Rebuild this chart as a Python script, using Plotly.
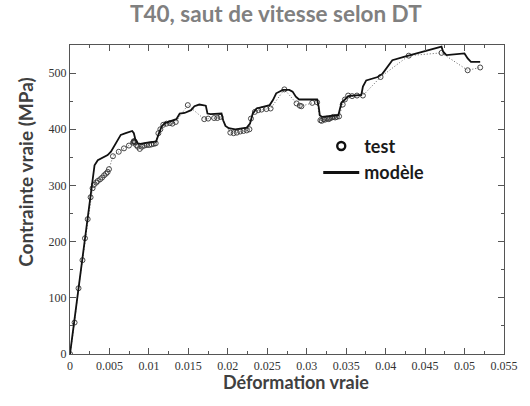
import plotly.graph_objects as go

# Essai de traction T40 : mesures (test) et simulation (modèle)
test_strain = [
    0.0, 0.00058, 0.00108, 0.00158, 0.0019, 0.00224, 0.00261, 0.00286, 0.00302,
    0.00332, 0.00352, 0.00382, 0.00407, 0.00432, 0.00457, 0.00477, 0.00494,
    0.00544, 0.00618, 0.00684, 0.00747, 0.00800, 0.00806, 0.00812, 0.00818,
    0.00824, 0.00840, 0.00859, 0.00884, 0.00912, 0.00942, 0.00974, 0.01004,
    0.01033, 0.01061, 0.01086, 0.0112, 0.01145, 0.01182, 0.01223, 0.01266,
    0.01298, 0.0134, 0.01493, 0.01701, 0.01751, 0.01826, 0.01867, 0.01908,
    0.02032, 0.02074, 0.02115, 0.02157, 0.02199, 0.0224, 0.02274, 0.02293,
    0.02343, 0.02386, 0.02427, 0.02489, 0.02542, 0.02717, 0.02871, 0.02912,
    0.02933, 0.0307, 0.03132, 0.03173, 0.0319, 0.03214, 0.0323, 0.03257,
    0.0328, 0.03298, 0.0332, 0.03339, 0.0336, 0.03381, 0.0341, 0.03456,
    0.03484, 0.03525, 0.03575, 0.03637, 0.03712, 0.03936, 0.04293, 0.04708,
    0.0504, 0.05198,
]
test_stress = [
    0, 56, 117, 167, 206, 240, 279, 295, 301,
    305, 308, 311, 314, 318, 321, 324, 329,
    352, 360, 366, 371, 376, 378, 379, 378,
    377, 372, 369, 365, 369, 371, 372, 372,
    373, 374, 375, 393, 400, 408, 410, 411,
    410, 413, 443, 418, 419, 420, 420, 422,
    394, 393, 394, 396, 397, 398, 400, 419,
    431, 434, 435, 436, 437, 471, 446, 442,
    441, 447, 448, 416, 415, 418, 417, 419,
    418, 420, 421, 422, 421, 422, 423, 444,
    453, 460, 459, 460, 460, 493, 531, 536,
    505, 510,
]

model_strain = [
    0.0, 0.0027, 0.0029, 0.00311, 0.00352, 0.00414, 0.00477, 0.00519, 0.00581,
    0.00643, 0.00706, 0.00788, 0.00809, 0.0083, 0.00859, 0.00892, 0.01017,
    0.01091, 0.0112, 0.01161, 0.01203, 0.01285, 0.01348, 0.0139, 0.01452,
    0.01534, 0.01577, 0.01639, 0.01721, 0.01742, 0.01783, 0.0192, 0.01941,
    0.0197, 0.02012, 0.02094, 0.0224, 0.02281, 0.02315, 0.02364, 0.0253,
    0.02572, 0.02613, 0.02697, 0.02779, 0.02821, 0.02862, 0.02903, 0.03132,
    0.03152, 0.03165, 0.03194, 0.03401, 0.03422, 0.03443, 0.03484, 0.03525,
    0.03692, 0.03712, 0.03754, 0.03817, 0.03899, 0.03961, 0.04085, 0.04231,
    0.0448, 0.04708, 0.04729, 0.0477, 0.04999, 0.0504, 0.05081, 0.05198,
]
model_stress = [
    0, 300, 320, 336, 345, 350, 354, 360, 375,
    390, 393, 397, 393, 381, 375, 374, 377,
    378, 390, 405, 411, 415, 418, 428, 429,
    434, 441, 444, 442, 428, 427, 428, 416,
    406, 402, 400, 403, 410, 428, 437, 443,
    452, 464, 470, 470, 467, 458, 453, 453,
    440, 425, 422, 425, 437, 448, 453, 459,
    461, 476, 487, 490, 493, 499, 523, 529,
    538, 547, 538, 532, 535, 526, 520, 520,
]

x_ticks = [0, 0.005, 0.01, 0.015, 0.02, 0.025, 0.03, 0.035, 0.04, 0.045, 0.05, 0.055]
x_tick_text = ["0", "0.005", "0.01", "0.015", "0.02", "0.025", "0.03", "0.035",
               "0.04", "0.045", "0.05", "0.055"]
y_ticks = [0, 100, 200, 300, 400, 500]

fig = go.Figure()

fig.add_trace(go.Scatter(
    x=test_strain, y=test_stress, mode="lines+markers", showlegend=False,
    line=dict(color="#666666", width=1, dash="1px,2px"),
    marker=dict(symbol="circle-open", size=5, color="#333333", line=dict(width=0.9)),
))
fig.add_trace(go.Scatter(
    x=model_strain, y=model_stress, mode="lines", showlegend=False,
    line=dict(color="#111111", width=1.8),
))

# Entrées de légende
fig.add_trace(go.Scatter(
    x=[None], y=[None], mode="markers", name="test",
    marker=dict(symbol="circle-open", size=8, color="#111111", line=dict(width=2.4)),
))
fig.add_trace(go.Scatter(
    x=[None], y=[None], mode="lines", name="modèle",
    line=dict(color="#111111", width=3),
))

serif = "Times New Roman, Liberation Serif, serif"
axis_common = dict(
    showline=True, linecolor="#555555", linewidth=1.3, mirror="ticks",
    ticks="inside", ticklen=6, tickwidth=1, tickcolor="#555555",
    showgrid=False, zeroline=False,
    tickfont=dict(family=serif, size=12, color="#333333"),
)

fig.update_xaxes(
    range=[0, 0.055], tickvals=x_ticks, ticktext=x_tick_text,
    minor=dict(dtick=0.0025, ticks="inside", ticklen=3, tickcolor="#555555"),
    **axis_common,
)
fig.update_yaxes(
    range=[0, 550], tickvals=y_ticks,
    minor=dict(dtick=50, ticks="inside", ticklen=3, tickcolor="#555555"),
    **axis_common,
)

fig.update_layout(
    width=530, height=406,
    margin=dict(l=70, r=18, t=45, b=52),
    paper_bgcolor="white", plot_bgcolor="white",
    showlegend=True,
    legend=dict(
        x=0.572, y=0.732, xanchor="left", yanchor="top",
        bgcolor="rgba(0,0,0,0)", itemwidth=36,
        font=dict(family="Lato", size=18, color="#1a1a1a", weight="bold"),
    ),
    annotations=[
        dict(text="<b>T40, saut de vitesse selon DT</b>", x=280, y=14,
             font=dict(family="Lato", size=22.5, color="#808080")),
        dict(text="<b>Déformation vraie</b>", x=300, y=382,
             font=dict(family="Lato", size=18, color="#404040")),
        dict(text="<b>Contrainte vraie (MPa)</b>", x=24, y=172, textangle=-90,
             font=dict(family="Lato", size=19, color="#404040")),
    ],
)

# Positions des annotations données en pixels, converties en coordonnées "paper"
L, R, T, B = 70, 512, 45, 354
for ann in fig.layout.annotations:
    ann.xref = "paper"
    ann.yref = "paper"
    ann.showarrow = False
    ann.xanchor = "center"
    ann.yanchor = "middle"
    ann.x = (ann.x - L) / (R - L)
    ann.y = (B - ann.y) / (B - T)

fig.write_html("out.html")
